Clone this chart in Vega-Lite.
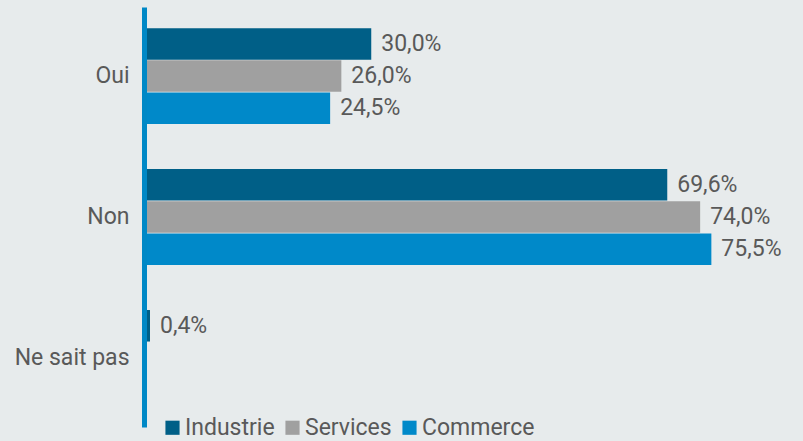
{
  "$schema": "https://vega.github.io/schema/vega-lite/v6.json",
  "autosize": "none",
  "width": 598,
  "height": 420,
  "padding": {"left": 147, "top": 7, "right": 58, "bottom": 14},
  "background": "#e7ebec",
  "config": {
    "view": {"stroke": null},
    "font": "Roboto",
    "locale": {"number": {"decimal": ",", "thousands": " ", "grouping": [3], "currency": ["", " €"]}}
  },
  "data": {
    "values": [
      {"reponse": "Oui", "secteur": "Industrie", "valeur": 0.300},
      {"reponse": "Oui", "secteur": "Services", "valeur": 0.260},
      {"reponse": "Oui", "secteur": "Commerce", "valeur": 0.245},
      {"reponse": "Non", "secteur": "Industrie", "valeur": 0.696},
      {"reponse": "Non", "secteur": "Services", "valeur": 0.740},
      {"reponse": "Non", "secteur": "Commerce", "valeur": 0.755},
      {"reponse": "Ne sait pas", "secteur": "Industrie", "valeur": 0.004},
      {"reponse": "Ne sait pas", "secteur": "Services", "valeur": 0.0},
      {"reponse": "Ne sait pas", "secteur": "Commerce", "valeur": 0.0}
    ]
  },
  "encoding": {
    "y": {
      "field": "reponse", "type": "nominal", "sort": ["Oui", "Non", "Ne sait pas"],
      "scale": {"paddingInner": 0.32, "paddingOuter": 0.15},
      "axis": {"title": null, "ticks": false, "domainColor": "#0088c6", "domainWidth": 5, "offset": 3,
               "labelFontSize": 23, "labelColor": "#595959", "labelPadding": 15, "labelFont": "Roboto"}
    },
    "yOffset": {"field": "secteur", "type": "nominal", "sort": ["Industrie", "Services", "Commerce"], "scale": {"paddingInner": 0.02}},
    "x": {"field": "valeur", "type": "quantitative", "scale": {"domain": [0, 0.8]}, "axis": null}
  },
  "layer": [
    {
      "mark": {"type": "bar"},
      "encoding": {
        "color": {
          "field": "secteur", "type": "nominal",
          "sort": ["Industrie", "Services", "Commerce"],
          "scale": {"domain": ["Industrie", "Services", "Commerce"], "range": ["#005f87", "#a0a0a0", "#0089c9"]},
          "legend": {
            "title": null, "orient": "none", "direction": "horizontal", "legendX": 14, "legendY": 409,
            "symbolType": "square", "symbolSize": 200, "labelFontSize": 23, "labelColor": "#595959",
            "labelFont": "Roboto", "columnPadding": 6, "labelOffset": 1, "symbolStrokeWidth": 0
          }
        }
      }
    },
    {
      "transform": [{"filter": "datum.valeur > 0"}],
      "mark": {"type": "text", "align": "left", "baseline": "middle", "dx": 10, "fontSize": 23, "color": "#595959", "font": "Roboto"},
      "encoding": {
        "text": {"field": "valeur", "type": "quantitative", "format": ".1%"}
      }
    }
  ]
}
